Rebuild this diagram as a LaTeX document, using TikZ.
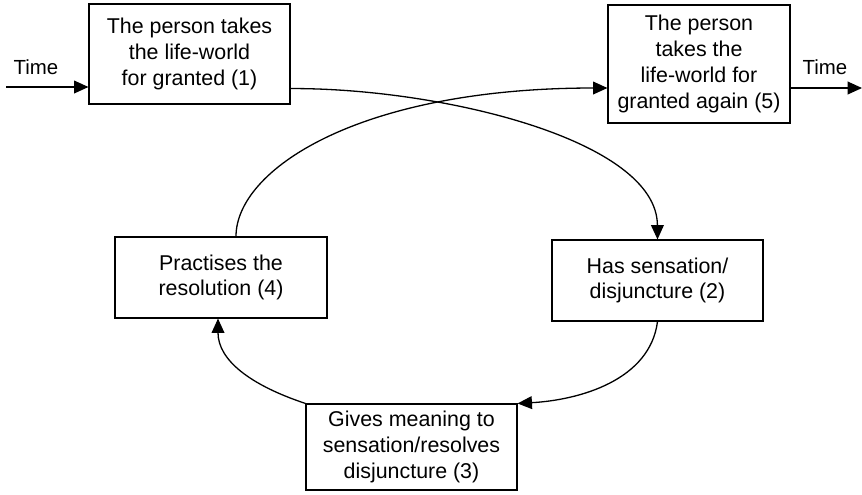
\documentclass[tikz,border=0pt]{standalone}
\usepackage{fontspec}
\setmainfont{Liberation Sans}
\usetikzlibrary{arrows.meta,calc}

\begin{document}
\begin{tikzpicture}[
    x=0.5pt, y=-0.5pt,
    stage/.style={draw, line width=0.55pt, align=center, inner sep=0pt,
                  font=\fontsize{10.7}{12.9}\selectfont},
    lbl/.style={inner sep=0pt, font=\fontsize{10.2}{12}\selectfont},
    flow/.style={line width=0.65pt, -{Triangle[length=7.2pt,width=6.4pt]}}
  ]
  \useasboundingbox (0,0) rectangle (862,494);

  % the five stages
  \node[stage, minimum width=100.5pt, minimum height=50pt] (b1) at (189.5,54)
    {The person takes\\the life-world\\for granted (1)};
  \node[stage, minimum width=91pt, minimum height=59pt] (b5) at (699,64)
    {The person\\takes the\\life-world for\\granted again (5)};
  \node[stage, minimum width=105.5pt, minimum height=40.5pt] (b2) at (657.5,280.5)
    {Has sensation/\\disjuncture (2)};
  \node[stage, minimum width=105.5pt, minimum height=43pt] (b3) at (411.5,447)
    {Gives meaning to\\sensation/resolves\\disjuncture (3)};
  \node[stage, minimum width=106pt, minimum height=40.5pt] (b4) at (221,277.5)
    {Practises the\\resolution (4)};

  % time axis in and out
  \node[lbl] (tl) at (36,67) {Time};
  \node[lbl] (tr) at (825,67) {Time};
  \coordinate (tin) at (6,87);
  \coordinate (tout) at (862,88);
  \draw[flow] (tin) -- (tin -| b1.west);
  \draw[flow] (tout -| b5.east) -- (tout);

  % the cycle
  \draw[flow] ($(b1.south east)+(0,-16)$)
    .. controls (441,88) and (657,140) .. (b2.north);
  \draw[flow] (b2.south)
    .. controls (650,380) and (580,400) .. (b3.north east);
  \draw[flow] (b3.north west)
    .. controls (250,385) and (218,360) .. ($(b4.south)+(-3,0)$);
  \draw[flow] ($(b4.north)+(15,0)$)
    .. controls (236,170) and (358,88) .. ($(b5.west)+(0,24)$);
\end{tikzpicture}
\end{document}
